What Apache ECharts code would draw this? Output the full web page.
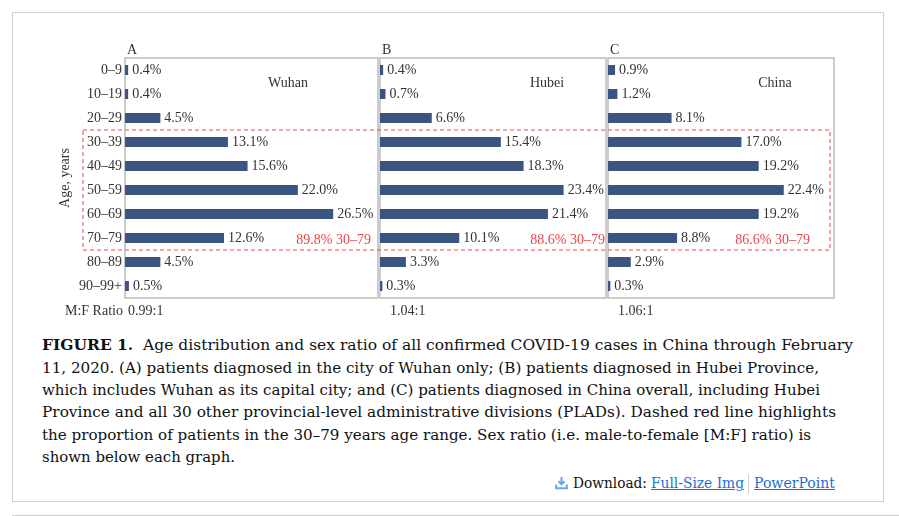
<!DOCTYPE html>
<html>
<head>
<meta charset="utf-8">
<script src="https://cdn.jsdelivr.net/npm/echarts@6/dist/echarts.min.js"></script>
<style>
  html, body { margin:0; padding:0; background:#fff; }
  #wrap { position:relative; width:899px; height:516px; overflow:hidden; }
  #frame { position:absolute; left:12px; top:12px; width:872px; height:490px; border:1.5px solid #cfcfcf; box-sizing:border-box; }
  #bottomLine { position:absolute; left:12px; top:515px; width:887px; height:1px; background:#cfcfcf; }
  #chart { position:absolute; left:0; top:0; width:899px; height:330px; }
  .cap { position:absolute; white-space:nowrap; font-family:"DejaVu Serif", serif; font-size:14px; color:#111; line-height:20px; transform-origin:0 50%; }
  .cap b { font-weight:bold; }
  .lnk { color:#1f6fd1; text-decoration:underline; }
  #sep { position:absolute; left:748px; top:474px; width:1px; height:20px; background:#cfcfcf; }
  #icon { position:absolute; left:555px; top:476px; }
</style>
</head>
<body>
<div id="wrap">
  <div id="frame"></div>
  <div id="bottomLine"></div>
  <div id="chart"></div>
  <div id="caption"></div>
  <svg id="icon" width="13" height="14" viewBox="0 0 13 14">
    <path d="M6.5 1 V8 M3.5 5.2 L6.5 8.3 L9.5 5.2" stroke="#6aa6e0" stroke-width="2" fill="none"/>
    <path d="M1.2 8.5 V12.3 H11.8 V8.5" stroke="#6aa6e0" stroke-width="2" fill="none"/>
  </svg>
  <div id="sep"></div>
</div>
<script>
// ---- data ----
var categories = ['0–9','10–19','20–29','30–39','40–49','50–59','60–69','70–79','80–89','90–99+'];
var wuhan = [0.4, 0.4, 4.5, 13.1, 15.6, 22.0, 26.5, 12.6, 4.5, 0.5];
var hubei = [0.4, 0.7, 6.6, 15.4, 18.3, 23.4, 21.4, 10.1, 3.3, 0.3];
var china = [0.9, 1.2, 8.1, 17.0, 19.2, 22.4, 19.2, 8.8, 2.9, 0.3];
var panelLetters = ['A', 'B', 'C'];
var panelNames = ['Wuhan', 'Hubei', 'China'];
var sexRatios = ['0.99:1', '1.04:1', '1.06:1'];
var share3079 = ['89.8% 30–79', '88.6% 30–79', '86.6% 30–79'];
var axisMax = [32.2, 28.8, 28.8];

var seriesData = [wuhan, hubei, china];
var font = '"Liberation Serif", "Times New Roman", serif';
var grids = [
  { left: 125, top: 58, width: 253, height: 240 },
  { left: 380, top: 58, width: 226, height: 240 },
  { left: 608, top: 58, width: 226, height: 240 }
];
var nameX = [288, 547, 775];
var redRight = [371, 605, 810];
var ratioX = [128, 390, 618];

var chart = echarts.init(document.getElementById('chart'), null, { renderer: 'canvas' });
var option = {
  animation: false,
  grid: grids.map(function (g) {
    return Object.assign({ show: true, borderColor: '#bdbdbd', borderWidth: 1.5, backgroundColor: 'transparent' }, g);
  }),
  xAxis: grids.map(function (g, i) {
    return { type: 'value', gridIndex: i, min: 0, max: axisMax[i], show: false };
  }),
  yAxis: grids.map(function (g, i) {
    return {
      type: 'category', gridIndex: i, data: categories, inverse: true,
      axisLine: { show: false }, axisTick: { show: false }, splitLine: { show: false },
      axisLabel: { show: i === 0, fontFamily: font, fontSize: 14, color: '#333', margin: 3 },
      name: i === 0 ? 'Age, years' : '', nameLocation: 'middle', nameGap: 53, nameRotate: 90,
      nameTextStyle: { fontFamily: font, fontSize: 14, color: '#333' }
    };
  }),
  series: seriesData.map(function (d, i) {
    return {
      type: 'bar', xAxisIndex: i, yAxisIndex: i, data: d, barWidth: 10,
      itemStyle: { color: '#3b5583' },
      label: {
        show: true, position: 'right', distance: 4,
        fontFamily: font, fontSize: 14, color: '#333',
        formatter: function (p) { return p.value.toFixed(1) + '%'; }
      }
    };
  })
};
chart.setOption(option);

// annotations positioned from the axes
var g = [];
var top30 = chart.convertToPixel({ yAxisIndex: 0 }, '30–39');
var bot70 = chart.convertToPixel({ yAxisIndex: 0 }, '70–79');
var band = 240 / categories.length;
g.push({
  type: 'rect', shape: { x: 83, y: top30 - band / 2, width: 747, height: bot70 - top30 + band },
  style: { fill: 'none', stroke: '#e8474a', lineWidth: 1, lineDash: [4, 3] }, z: 10
});
for (var i = 0; i < 3; i++) {
  g.push({ type: 'text', x: grids[i].left + 2, y: 50, style: { text: panelLetters[i], font: '14px ' + font, fill: '#333', textVerticalAlign: 'middle' } });
  g.push({ type: 'text', x: nameX[i], y: 83, style: { text: panelNames[i], font: '14px ' + font, fill: '#333', textAlign: 'center', textVerticalAlign: 'middle' } });
  g.push({ type: 'text', x: redRight[i], y: bot70 + 2, style: { text: share3079[i], font: '14px ' + font, fill: '#e8474a', textAlign: 'right', textVerticalAlign: 'middle' } });
  g.push({ type: 'text', x: ratioX[i], y: 311, style: { text: sexRatios[i], font: '14px ' + font, fill: '#333', textVerticalAlign: 'middle' } });
}
g.push({ type: 'text', x: 65, y: 311, style: { text: 'M:F Ratio', font: '14px ' + font, fill: '#333', textVerticalAlign: 'middle' } });
chart.setOption({ graphic: g });

// caption lines (left, right, centerY)
var capLines = [
  ['<b>FIGURE 1.</b>&nbsp;&nbsp;Age distribution and sex ratio of all confirmed COVID-19 cases in China through February', 42, 853, 345],
  ['11, 2020. (A) patients diagnosed in the city of Wuhan only; (B) patients diagnosed in Hubei Province,', 42, 819, 367.5],
  ['which includes Wuhan as its capital city; and (C) patients diagnosed in China overall, including Hubei', 42, 820, 390],
  ['Province and all 30 other provincial-level administrative divisions (PLADs). Dashed red line highlights', 42, 836, 412],
  ['the proportion of patients in the 30–79 years age range. Sex ratio (i.e. male-to-female [M:F] ratio) is', 42, 811, 434.5],
  ['shown below each graph.', 42, 235, 457],
  ['Download:', 573, 647, 483],
  ['<span class="lnk">Full-Size Img</span>', 651, 744, 483],
  ['<span class="lnk">PowerPoint</span>', 754, 835, 483]
];
var cap = document.getElementById('caption');
capLines.forEach(function (l) {
  var d = document.createElement('div');
  d.className = 'cap';
  d.innerHTML = l[0];
  d.style.left = l[1] + 'px';
  d.style.top = (l[3] - 10) + 'px';
  cap.appendChild(d);
  var w = d.getBoundingClientRect().width;
  d.style.transform = 'scaleX(' + ((l[2] - l[1]) / w) + ')';
});
</script>
</body>
</html>
